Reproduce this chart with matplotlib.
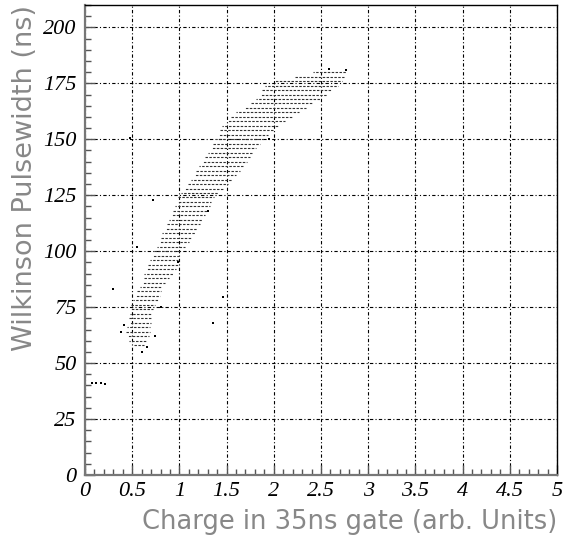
import numpy as np
import matplotlib
matplotlib.use("Agg")
from matplotlib import pyplot as plt
from matplotlib.ticker import MultipleLocator

# band of events: pulsewidth row (ns) and the charge range it covers
row_y = [58, 60, 62, 64, 66, 68, 70, 72, 74, 76, 78, 80, 82, 84, 86, 88, 90,
         92, 94, 96, 98, 100, 102, 104, 106, 108, 110, 112, 114, 116, 118,
         120, 122, 124, 126, 128, 130, 132, 134, 136, 138, 140, 142, 144,
         146, 148, 150, 152, 154, 156, 158, 160, 162, 164, 166, 168, 170,
         172, 174, 176, 178, 180]
row_xmin = [0.52, 0.47, 0.44, 0.43, 0.45, 0.47, 0.47, 0.48, 0.48, 0.49, 0.51,
            0.53, 0.55, 0.58, 0.60, 0.62, 0.63, 0.65, 0.67, 0.69, 0.71, 0.73,
            0.76, 0.78, 0.80, 0.82, 0.85, 0.87, 0.89, 0.91, 0.93, 0.95, 0.97,
            0.99, 1.02, 1.05, 1.09, 1.12, 1.15, 1.18, 1.21, 1.24, 1.27, 1.30,
            1.33, 1.36, 1.39, 1.41, 1.43, 1.45, 1.50, 1.55, 1.60, 1.68, 1.76,
            1.81, 1.85, 1.88, 1.91, 2.00, 2.22, 2.42]
row_xmax = [0.62, 0.66, 0.68, 0.69, 0.69, 0.70, 0.70, 0.71, 0.72, 0.74, 0.77,
            0.79, 0.80, 0.82, 0.85, 0.89, 0.93, 0.96, 0.98, 0.99, 1.00, 1.02,
            1.06, 1.10, 1.13, 1.16, 1.19, 1.22, 1.24, 1.27, 1.29, 1.32, 1.34,
            1.37, 1.41, 1.46, 1.51, 1.56, 1.60, 1.64, 1.68, 1.72, 1.75, 1.78,
            1.81, 1.85, 1.89, 1.94, 2.00, 2.04, 2.12, 2.20, 2.27, 2.34, 2.42,
            2.49, 2.56, 2.62, 2.68, 2.72, 2.74, 2.77]

# isolated events
out_x = [0.07, 0.12, 0.17, 0.21, 0.30, 1.36, 1.46, 0.72, 0.55, 0.48, 2.59,
         2.77, 0.38, 0.41, 0.74, 0.80, 0.60, 0.66, 0.98, 1.30, 1.95]
out_y = [41, 41, 41, 40.5, 83, 67.7, 79.6, 122.8, 101.9, 150.7, 181.5,
         180.8, 64, 67, 62, 75, 55, 57, 95, 118, 150]

fig = plt.figure(figsize=(5.64, 5.48), dpi=100)
ax = fig.add_axes([85 / 564, 73 / 548, 472 / 564, 470 / 548])

# stagger the dash phase row to row so the dots do not line up in columns
dash_styles = [(k % 3 * 1.1, (2.2, 1.3)) for k in range(len(row_y))]
ax.hlines(row_y, row_xmin, row_xmax, colors="#333333", linewidth=0.8,
          linestyles=dash_styles)
ax.scatter(out_x, out_y, s=1.2, c="k", marker="s", linewidths=0)

ax.set_xlim(0, 5)
ax.set_ylim(0, 210)
ax.xaxis.set_major_locator(MultipleLocator(0.5))
ax.xaxis.set_minor_locator(MultipleLocator(0.1))
ax.yaxis.set_major_locator(MultipleLocator(25))
ax.yaxis.set_minor_locator(MultipleLocator(5))
ax.xaxis.set_major_formatter(plt.FuncFormatter(lambda v, p: f"{v:g}"))

ax.grid(True, which="major", color="k", linewidth=0.8,
        linestyle=(0, (3, 2, 1, 2)))
ax.set_axisbelow(True)

ax.tick_params(which="both", direction="in", top=False, right=False,
               color="#555555", labelsize=16)
ax.tick_params(which="major", length=7, width=1)
ax.tick_params(which="minor", length=4.3, width=1)
ax.tick_params(axis="x", pad=5)
ax.tick_params(axis="y", pad=6)
for lab in ax.get_xticklabels() + ax.get_yticklabels():
    lab.set_fontfamily("Liberation Serif")
    lab.set_fontstyle("italic")

for side in ("left", "bottom"):
    ax.spines[side].set_color("#777777")
    ax.spines[side].set_linewidth(1.6)
for side in ("top", "right"):
    ax.spines[side].set_color("k")
    ax.spines[side].set_linewidth(1.0)

ax.set_xlabel("Charge in 35ns gate (arb. Units)", loc="right",
              fontfamily="DejaVu Sans", fontsize=18.5,
              color="#888888", labelpad=6)
ax.set_ylabel("Wilkinson Pulsewidth (ns)", loc="top",
              fontfamily="DejaVu Sans", fontsize=19.5,
              color="#888888", labelpad=4)

fig.savefig("out.png", dpi=100)
